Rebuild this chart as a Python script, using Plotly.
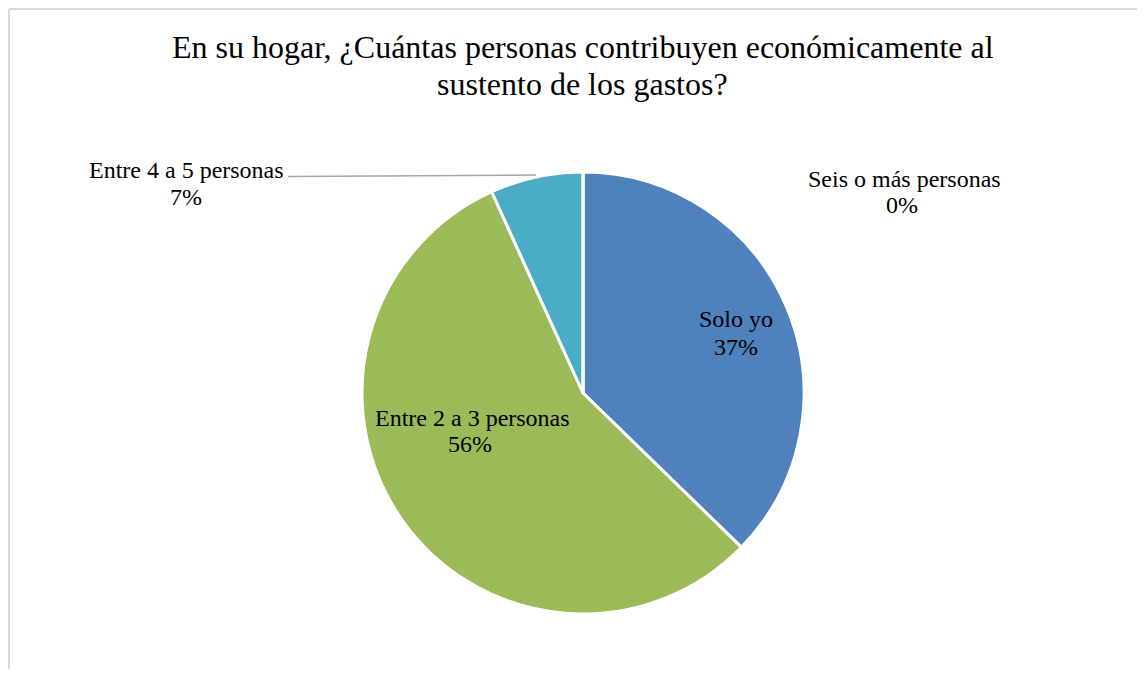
import plotly.graph_objects as go

# ---- data ----
categories = ["Solo yo", "Entre 2 a 3 personas", "Entre 4 a 5 personas", "Seis o más personas"]
counts = [22, 33, 4, 0]
colors = ["#4f81bd", "#9bbb59", "#4bacc6", "#f79646"]
title_lines = ["En su hogar, ¿Cuántas personas contribuyen económicamente al",
               "sustento de los gastos?"]

total = sum(counts)
pct_text = [f"{round(100 * c / total)}%" for c in counts]

# ---- page geometry (body margin offset) ----
OX, OY = 8, 8
W, H = 1129, 661
FONT = "Liberation Serif, Times New Roman, serif"


def px(x):
    return (x - OX) / W


def py(y):
    return 1 - (y - OY) / H


CX, CY, R = 583, 393, 221

fig = go.Figure(go.Pie(
    labels=categories,
    values=counts,
    sort=False,
    direction="clockwise",
    rotation=0,
    marker=dict(colors=colors, line=dict(color="white", width=3)),
    textinfo="none",
    hoverinfo="label+percent",
    showlegend=False,
    domain=dict(x=[px(CX - R), px(CX + R)], y=[py(CY + R), py(CY - R)]),
))

annotations = []
# title lines (centres of text boxes)
for line, yc in zip(title_lines, [47, 84]):
    annotations.append(dict(text=line, x=px(582.5), y=py(yc), xref="paper", yref="paper",
                            xanchor="center", yanchor="middle", showarrow=False,
                            font=dict(family=FONT, size=32, color="#000000")))

# data labels: (label center x, line1 center y, line2 center x, line2 center y)
label_pos = [
    (736, 319, 736, 347),
    (472.5, 418, 470, 444),
    (186.5, 170, 186, 197),
    (904.5, 179, 902, 205),
]
for cat, pt, (lx, ly1, lx2, ly2) in zip(categories, pct_text, label_pos):
    annotations.append(dict(text=cat, x=px(lx), y=py(ly1), xref="paper", yref="paper",
                            xanchor="center", yanchor="middle", showarrow=False,
                            font=dict(family=FONT, size=24, color="#000000")))
    annotations.append(dict(text=pt, x=px(lx2), y=py(ly2), xref="paper", yref="paper",
                            xanchor="center", yanchor="middle", showarrow=False,
                            font=dict(family=FONT, size=24, color="#000000")))

shapes = [
    # chart border (left and top edges visible)
    dict(type="line", xref="paper", yref="paper", x0=px(9), x1=px(1160), y0=py(9), y1=py(9),
         line=dict(color="#d9d9d9", width=2)),
    dict(type="line", xref="paper", yref="paper", x0=px(9), x1=px(9), y0=py(9), y1=py(700),
         line=dict(color="#d9d9d9", width=2)),
    # leader line for "Entre 4 a 5 personas"
    dict(type="line", xref="paper", yref="paper", x0=px(288), x1=px(536), y0=py(176.5), y1=py(175),
         line=dict(color="#a6a6a6", width=1.5)),
]

fig.update_layout(
    width=W, height=H,
    margin=dict(l=0, r=0, t=0, b=0),
    paper_bgcolor="white",
    plot_bgcolor="white",
    annotations=annotations,
    shapes=shapes,
)

fig.write_html("out.html")
